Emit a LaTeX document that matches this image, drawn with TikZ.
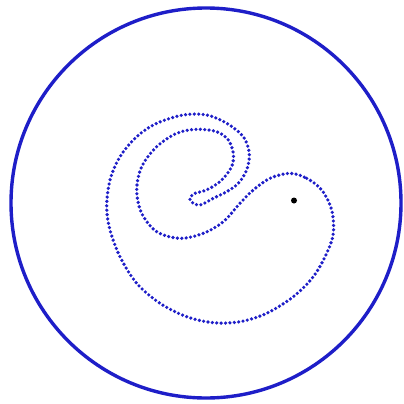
\documentclass[tikz,border=0pt]{standalone}
\usetikzlibrary{calc}
\definecolor{dotblue}{RGB}{30,30,200}
\tikzset{
  dotcurve/.style={draw=dotblue, line width=3.6pt, line cap=round, dash pattern=on 0pt off 4.4pt},
  rim/.style={draw=dotblue, line width=3.4pt},
  marker/.style={circle, fill=black, inner sep=0pt, minimum size=6pt}
}
\begin{document}
\begin{tikzpicture}[x=1pt,y=-1pt]
\useasboundingbox (0,0) rectangle (404,404);
\fill[white] (0,0) rectangle (404,404);
% outer circle
\draw[rim] (206,203) circle (195);
% inner folded curve
\draw[dotcurve] plot[smooth cycle, tension=0.55] coordinates {
 (290,173.3) (306.7,178.3) (321.7,190) (331.7,210) (333.3,233.3) (326.7,253.3)
 (313.3,276.7) (293.3,296.7) (266.7,313.3) (240,321.7) (213.3,322.7) (186.7,316.7)
 (160,303.3) (136.7,283.3) (120,256.7) (110,230) (106.7,206.7) (110,180)
 (120,156.7) (136.7,136.7) (156.7,123.3) (183.3,115) (206.7,115) (226.7,123.3)
 (243.3,136.7) (249.3,153.3) (246.7,170) (238.3,183.3) (226.7,191.7) (213.3,198.3)
 (200,205) (191.5,202) (190,197.5) (195,193.3) (202,191.5) (210,188.3) (221.7,180)
 (231.7,166.7) (233.3,153.3) (228.3,140) (216.7,131.7) (196.7,129.3) (176.7,133.3)
 (156.7,146.7) (141.7,166.7) (136.7,190) (141.7,213.3) (156.7,231.7) (180,238.3)
 (203.3,233.3) (223.3,221.7) (240,203.3) (253.3,190) (270,178.3)
};
\node[marker] (p) at (294,200.5) {};
\end{tikzpicture}
\end{document}
